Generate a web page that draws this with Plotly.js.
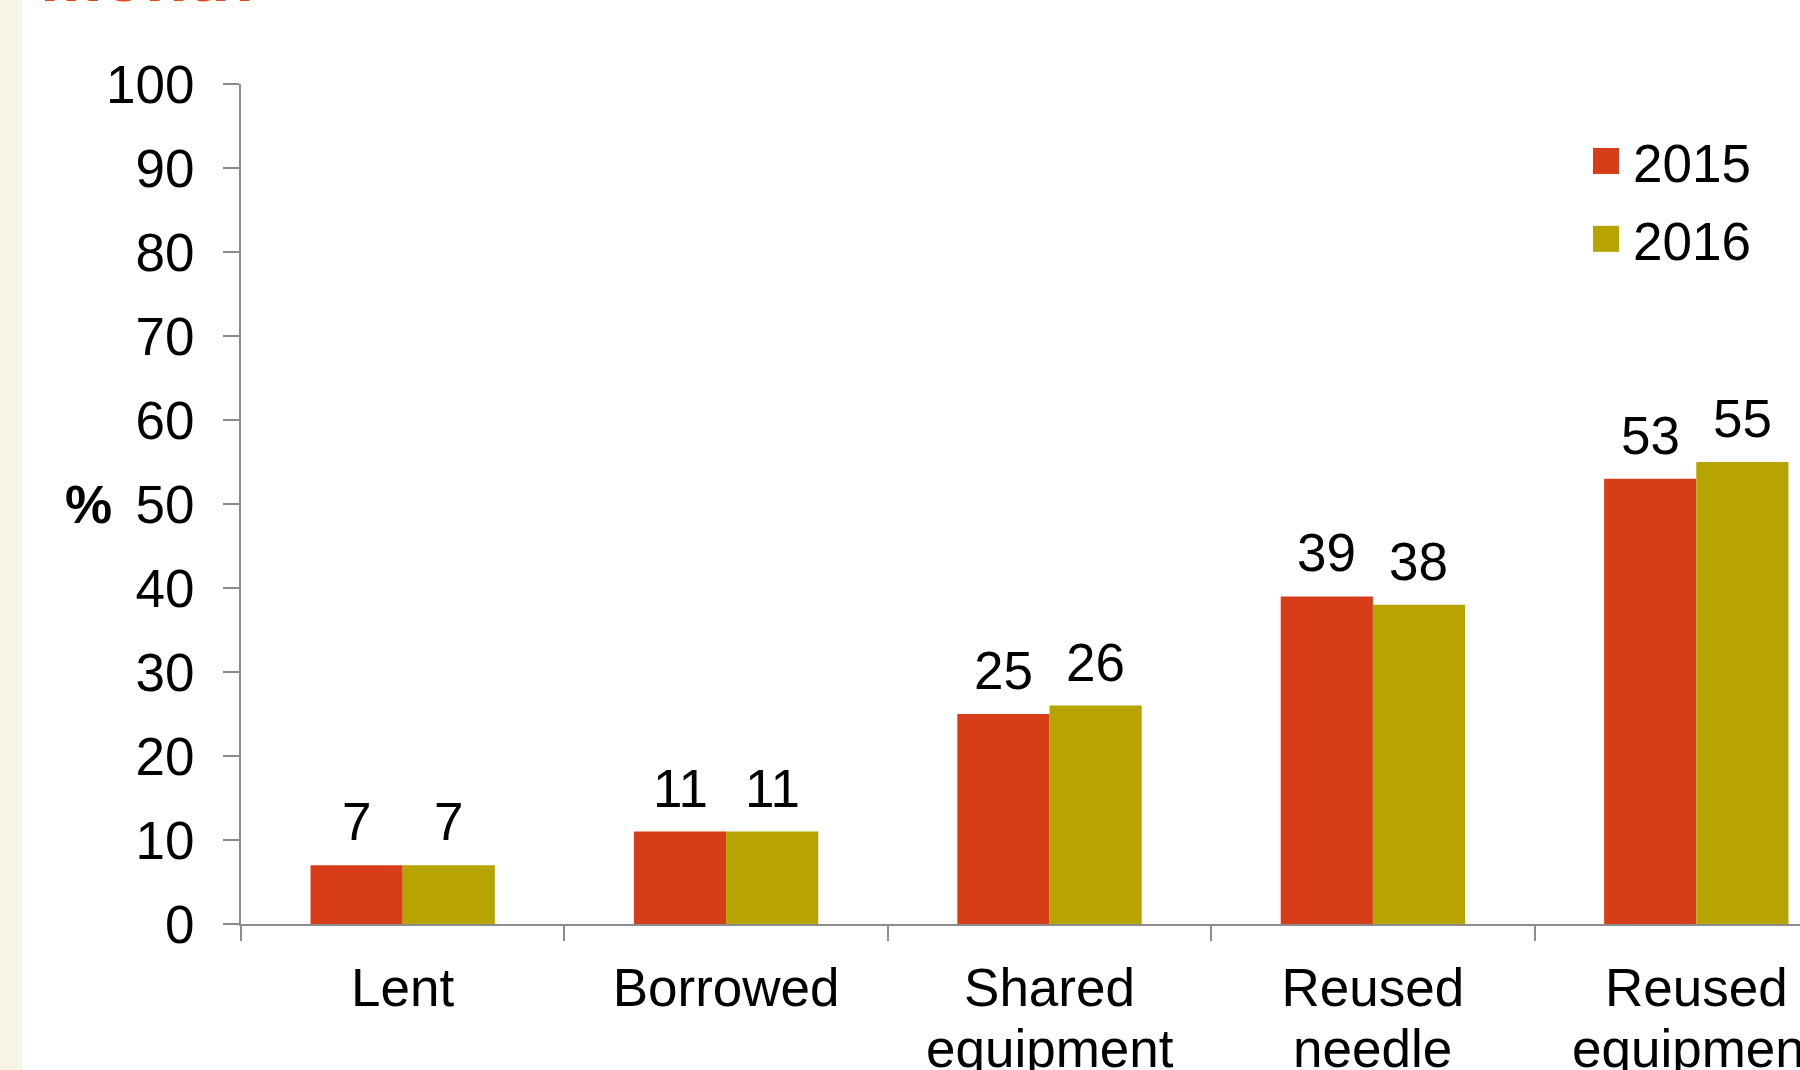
<!DOCTYPE html>
<html>
<head>
<meta charset="utf-8">
<script src="https://cdn.plot.ly/plotly-3.0.1.min.js"></script>
<style>
  html, body { margin: 0; padding: 0; background: #ffffff; overflow: hidden; width: 1800px; height: 1070px; }
  #chart { width: 1900px; height: 1070px; }
</style>
</head>
<body>
<div id="chart"></div>
<script>
// ---- data ----
const categories = ["Lent", "Borrowed", "Shared equipment", "Reused needle", "Reused equipment"];
const firstLines = ["Lent", "Borrowed", "Shared", "Reused", "Reused"];
const secondLines = ["", "", "equipment", "needle", "equipment"];
const seriesNames = ["2015", "2016"];
const values2015 = [7, 11, 25, 39, 53];
const values2016 = [7, 11, 26, 38, 55];
const yTickVals = [0, 10, 20, 30, 40, 50, 60, 70, 80, 90, 100];
const yAxisLabel = "%";
const titleTail = "month";

// ---- styling ----
const colors = ["#D73D18", "#B8A400"];
const FONT = "Liberation Sans, Arial, sans-serif";
const W = 1900, H = 1070;
const M = { l: 241, r: 42, t: 84, b: 146 };
const plotW = W - M.l - M.r, plotH = H - M.t - M.b;
const BARGAP = 0.43;
const barHalf = (plotW / categories.length) * (1 - BARGAP) / 4;
const px2paperX = px => (px - M.l) / plotW;
const px2paperY = py => (H - M.b - py) / plotH;

const series = [values2015, values2016];
const traces = series.map((vals, i) => ({
  type: "bar",
  name: seriesNames[i],
  legendgroup: "g" + i,
  x: categories,
  y: vals,
  marker: { color: colors[i] },
  hoverinfo: "x+y+name"
}));

const annotations = [];
// data labels
series.forEach((vals, i) => {
  vals.forEach((v, j) => {
    annotations.push({
      x: categories[j], y: v, xref: "x", yref: "y",
      text: String(v), showarrow: false,
      xanchor: "center", yanchor: "bottom",
      xshift: (i === 0 ? -1 : 1) * barHalf, yshift: 12,
      font: { family: FONT, size: 53, color: "#000000" }
    });
  });
});
// second lines of category labels
secondLines.forEach((t, j) => {
  if (!t) return;
  annotations.push({
    x: categories[j], xref: "x", y: px2paperY(1048), yref: "paper",
    text: t, showarrow: false, xanchor: "center", yanchor: "middle",
    font: { family: FONT, size: 53, color: "#000000" }
  });
});
// "%" axis label
annotations.push({
  x: px2paperX(88), xref: "paper", y: 50, yref: "y",
  text: "<b>" + yAxisLabel + "</b>", showarrow: false,
  xanchor: "center", yanchor: "middle",
  font: { family: FONT, size: 53, color: "#000000" }
});
// cut-off title (only its last line's foot is visible)
annotations.push({
  x: px2paperX(38), xref: "paper", y: px2paperY(18), yref: "paper",
  text: "<b>" + titleTail + "</b>", showarrow: false,
  xanchor: "left", yanchor: "bottom",
  font: { family: FONT, size: 70, color: "#E04A1F" }
});

const axisGray = "#8C8C8C";
const layout = {
  width: W, height: H,
  margin: M,
  paper_bgcolor: "#ffffff",
  plot_bgcolor: "#ffffff",
  barmode: "group",
  bargap: BARGAP,
  bargroupgap: 0,
  font: { family: FONT, size: 53, color: "#000000" },
  showlegend: true,
  legend: {
    x: px2paperX(1593), xanchor: "left",
    y: px2paperY(120), yanchor: "top",
    traceorder: "grouped", tracegroupgap: 6,
    font: { family: FONT, size: 53, color: "#000000" },
    bgcolor: "rgba(0,0,0,0)",
    itemclick: false, itemdoubleclick: false
  },
  xaxis: {
    type: "category",
    categoryorder: "array", categoryarray: categories,
    tickvals: categories, ticktext: firstLines,
    range: [-0.5, categories.length - 0.5],
    tickson: "boundaries",
    ticks: "outside", ticklen: 15, tickwidth: 2, tickcolor: axisGray,
    showline: true, linecolor: axisGray, linewidth: 2,
    showgrid: false, zeroline: false,
    tickfont: { family: FONT, size: 53, color: "#000000" },
    ticklabelstandoff: 16,
    fixedrange: true
  },
  yaxis: {
    range: [0, 100],
    tickvals: yTickVals,
    ticks: "outside", ticklen: 16, tickwidth: 2, tickcolor: axisGray,
    showline: true, linecolor: axisGray, linewidth: 2,
    showgrid: false, zeroline: false,
    tickfont: { family: FONT, size: 53, color: "#000000" },
    ticklabelstandoff: 18,
    fixedrange: true
  },
  shapes: [{
    type: "rect", xref: "paper", yref: "paper", layer: "below",
    x0: px2paperX(0), x1: px2paperX(22), y0: px2paperY(1100), y1: px2paperY(-30),
    fillcolor: "#F6F4E5", line: { width: 0 }
  }],
  annotations: annotations
};

Plotly.newPlot("chart", traces, layout, { displayModeBar: false, staticPlot: true }).then(gd => {
  // enlarge legend swatches to match the reference (26px squares)
  gd.querySelectorAll(".legend .legendpoints path").forEach(p => {
    p.setAttribute("d", "M6,13H-20V-13H6Z");
  });
});
</script>
</body>
</html>
